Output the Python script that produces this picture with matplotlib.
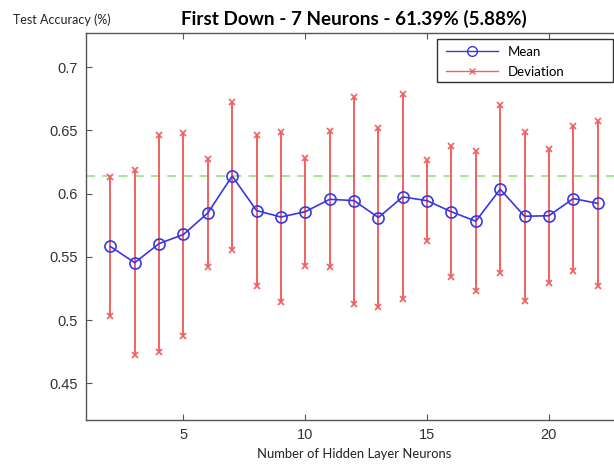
import matplotlib
matplotlib.use("Agg")
import matplotlib.pyplot as plt
from matplotlib.lines import Line2D
from matplotlib.patches import Rectangle
import numpy as np

# Hidden layer sizes and the cross-validated test accuracy for each
neurons = [2, 3, 4, 5, 6, 7, 8, 9, 10, 11, 12, 13, 14, 15, 16, 17, 18, 19, 20, 21, 22]
mean_acc = [0.5582, 0.5454, 0.5605, 0.5677, 0.5847, 0.6139, 0.5866, 0.5815, 0.5857,
            0.5955, 0.5945, 0.5811, 0.5974, 0.5944, 0.5856, 0.5782, 0.6035, 0.5821,
            0.5825, 0.5961, 0.5923]
std_acc = [0.0553, 0.0733, 0.0857, 0.0803, 0.0430, 0.0588, 0.0600, 0.0673, 0.0427,
           0.0538, 0.0818, 0.0709, 0.0810, 0.0319, 0.0518, 0.0553, 0.0666, 0.0670,
           0.0531, 0.0570, 0.0650]
x_ticks = [5, 10, 15, 20]
y_ticks = [0.45, 0.5, 0.55, 0.6, 0.65, 0.7]

x = np.array(neurons)
m = np.array(mean_acc)
s = np.array(std_acc)
best = int(np.argmax(m))

RED = (0.95, 0.38, 0.38)
BLUE = (0.22, 0.22, 0.88)
GREEN = (0.6, 0.9, 0.55)
AXC = "#555555"

W, H = 614, 466
fig = plt.figure(figsize=(W / 100, H / 100), dpi=100)
ax = fig.add_axes([86 / W, 46 / H, (622 - 86) / W, (420 - 33) / H])

# reference line at the best mean accuracy
ax.axhline(m[best], color=GREEN, ls=(0, (5, 4)), lw=1.3, zorder=1)

# deviation bars with cross markers at both ends
ax.vlines(x, m - s, m + s, color=RED, lw=1.4, zorder=2)
ax.plot(x, m + s, ls="none", marker="x", ms=5, mew=1.2, color=RED, zorder=3)
ax.plot(x, m - s, ls="none", marker="x", ms=5, mew=1.2, color=RED, zorder=3)

# mean accuracy curve
ax.plot(x, m, "-o", color=BLUE, lw=1.2, ms=8, mfc="none", mew=1.2, zorder=4)

ax.set_xlim(1, 23)
ax.set_ylim(0.421, 0.727)
ax.set_xticks(x_ticks)
ax.set_yticks(y_ticks)
ax.set_yticklabels([f"{v:g}" for v in y_ticks])
ax.tick_params(direction="in", length=4, width=0.8, color=AXC, labelsize=10.5,
               labelcolor="#333333", top=True, right=True, pad=6)
for t in ax.get_xticklabels() + ax.get_yticklabels():
    t.set_fontfamily("Liberation Sans")
for sp in ax.spines.values():
    sp.set_color(AXC)
    sp.set_linewidth(1.0)

ax.set_title(f"First Down - {neurons[best]} Neurons - {m[best]*100:.2f}% ({s[best]*100:.2f}%)",
             fontfamily="Lato", fontweight="bold", fontsize=13.6, pad=6)
fig.text(13 / W, 1 - 20 / H, "Test Accuracy (%)", fontfamily="Lato", fontsize=9,
         va="center", ha="left", color="#222222")
ax.set_xlabel("Number of Hidden Layer Neurons", fontfamily="Lato", fontsize=9.4,
              color="#222222", labelpad=4)

# legend box with a wide frame on the upper right
frame = Rectangle((437 / W, 1 - 82 / H), 176 / W, 43 / H, transform=fig.transFigure,
                  facecolor="white", edgecolor="#333333", lw=1.0, zorder=5, clip_on=False)
ax.add_patch(frame)
handles = [
    Line2D([], [], color=BLUE, marker="o", mfc="none", ms=7, lw=1.0),
    Line2D([], [], color=RED, marker="x", ms=5, lw=1.0),
]
leg = ax.legend(handles, ["Mean", "Deviation"], loc="upper left",
                bbox_to_anchor=(441 / W, 1 - 41 / H), bbox_transform=fig.transFigure,
                prop={"family": "Lato", "size": 9.5}, frameon=False,
                handlelength=4.0, handletextpad=0.7, borderpad=0.35, labelspacing=0.6,
                borderaxespad=0)
leg.set_zorder(6)

fig.savefig("out.png", dpi=100)
